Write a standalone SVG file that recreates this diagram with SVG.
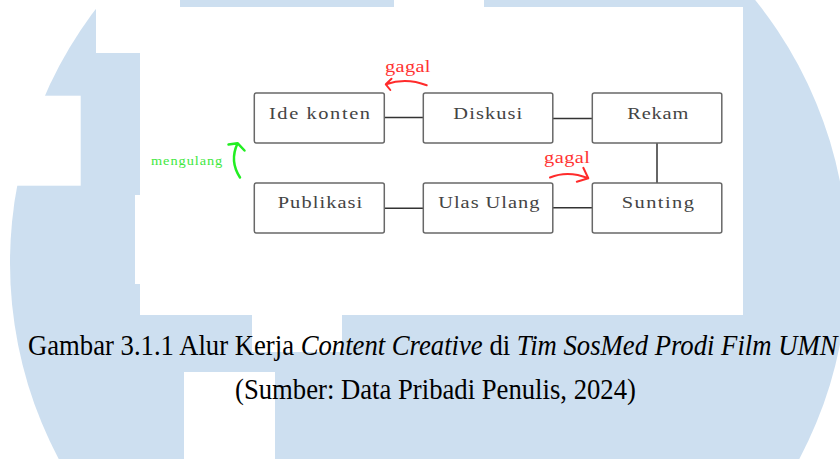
<svg xmlns="http://www.w3.org/2000/svg" width="840" height="459" viewBox="0 0 840 459">
<style>
.wm{fill:#cddff0}
.wh{fill:#ffffff}
.box{fill:#ffffff;stroke:#686868;stroke-width:1.5}
.lbl{font-family:"Liberation Serif","Times New Roman",serif;font-size:17px;fill:#444444}
.conn{stroke:#333333;stroke-width:1.5;fill:none}
.red{stroke:#ff2b2b;stroke-width:2;fill:none;stroke-linecap:round;stroke-linejoin:round}
.grn{stroke:#22ee22;stroke-width:2.5;fill:none;stroke-linecap:round;stroke-linejoin:round}
.rt{font-family:"Liberation Serif","Times New Roman",serif;font-size:17px;fill:#ff3333}
.gt{font-family:"Liberation Serif","Times New Roman",serif;font-size:12px;fill:#3ee83e}
.cap{font-family:"Liberation Serif","Times New Roman",serif;font-size:26.7px;fill:#000000}
.it{font-style:italic}
</style>
<rect x="0" y="0" width="840" height="459" fill="#ffffff"/>
<g id="watermark">
<circle class="wm" cx="429" cy="263" r="419"/>
<rect class="wh" x="96" y="0" width="84" height="53"/>
<rect class="wh" x="0" y="95.7" width="80.7" height="90"/>
<rect class="wh" x="394" y="0" width="90" height="7"/>
<rect class="wh" x="252" y="315" width="90" height="37"/>
<rect class="wh" x="184" y="372" width="91" height="87"/>
</g>
<g id="figure">
<rect class="wh" x="140" y="7" width="603" height="308"/>
<rect class="wh" x="135" y="195" width="6" height="89"/>
</g>
<g id="connectors">
<line class="conn" x1="384" y1="117.5" x2="423" y2="117.5"/>
<line class="conn" x1="553" y1="118.5" x2="592" y2="118.5"/>
<line class="conn" x1="657" y1="143" x2="657" y2="183"/>
<line class="conn" x1="553" y1="207.7" x2="592" y2="207.7"/>
<line class="conn" x1="384" y1="208.3" x2="423" y2="208.3"/>
</g>
<g id="node-ide-konten">
<rect class="box" x="254.3" y="93" width="130" height="50" rx="2"/>
<text class="lbl" transform="translate(269,119) scale(1.2,1)" textLength="84.2" lengthAdjust="spacing">Ide konten</text>
</g>
<g id="node-diskusi">
<rect class="box" x="423.3" y="93" width="129.5" height="50" rx="2"/>
<text class="lbl" transform="translate(453.3,119) scale(1.2,1)" textLength="57.5" lengthAdjust="spacing">Diskusi</text>
</g>
<g id="node-rekam">
<rect class="box" x="592.3" y="93" width="129.5" height="50" rx="2"/>
<text class="lbl" transform="translate(627.3,119) scale(1.2,1)" textLength="50.8" lengthAdjust="spacing">Rekam</text>
</g>
<g id="node-sunting">
<rect class="box" x="592.3" y="183" width="129.5" height="50" rx="2"/>
<text class="lbl" transform="translate(621.7,208) scale(1.2,1)" textLength="60.25" lengthAdjust="spacing">Sunting</text>
</g>
<g id="node-ulas-ulang">
<rect class="box" x="423.3" y="183" width="129.5" height="50" rx="2"/>
<text class="lbl" transform="translate(438.3,208) scale(1.2,1)" textLength="84.2" lengthAdjust="spacing">Ulas Ulang</text>
</g>
<g id="node-publikasi">
<rect class="box" x="254.3" y="183" width="130" height="50" rx="2"/>
<text class="lbl" transform="translate(277.7,208) scale(1.2,1)" textLength="70.5" lengthAdjust="spacing">Publikasi</text>
</g>
<g id="annotation-gagal-1">
<text class="rt" transform="translate(385,71.5) scale(1.2,1)" textLength="37.9" lengthAdjust="spacing">gagal</text>
<path class="red" d="M426.7,85.3 Q406,77 386,84.3 M391.5,78.8 L385.8,84.3 L390.3,90"/>
</g>
<g id="annotation-gagal-2">
<text class="rt" transform="translate(544,163.3) scale(1.2,1)" textLength="38.3" lengthAdjust="spacing">gagal</text>
<path class="red" d="M550,177.5 Q568,170 588.3,178.3 M583.3,167.8 L588.3,178.3 L576.8,181.7"/>
</g>
<g id="annotation-mengulang">
<text class="gt" transform="translate(151,164.7) scale(1.2,1)" textLength="59.4" lengthAdjust="spacing">mengulang</text>
<path class="grn" d="M240,177.5 Q229.3,161 237.5,143.5 M228.5,144.5 L237.5,143.2 L244.5,150.5"/>
</g>
<g id="caption">
<text class="cap" transform="translate(28,355) scale(1,1.1)">Gambar 3.1.1 Alur Kerja <tspan class="it">Content Creative</tspan> di <tspan class="it">Tim SosMed Prodi Film UMN</tspan></text>
<text class="cap" transform="translate(235,399) scale(1,1.1)">(Sumber: Data Pribadi Penulis, 2024)</text>
</g>
</svg>
